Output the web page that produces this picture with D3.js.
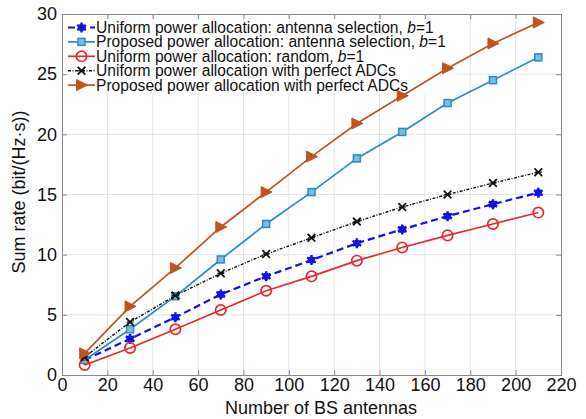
<!DOCTYPE html>
<html><head><meta charset="utf-8">
<script src="https://cdn.jsdelivr.net/npm/d3@7"></script>
<style>body{margin:0;background:#fff}svg{display:block}text{font-family:"Liberation Sans",Arial,sans-serif}</style>
</head><body><svg id="c" width="586" height="419"></svg>
<script>
const antennas = [10, 30, 50, 70, 90, 110, 130, 150, 170, 190, 210];
const uniformSel = [1.25, 3.0, 4.8, 6.7, 8.2, 9.55, 10.95, 12.1, 13.2, 14.2, 15.15];
const proposedSel = [1.25, 3.8, 6.55, 9.6, 12.55, 15.2, 18.0, 20.2, 22.6, 24.5, 26.4];
const uniformRandom = [0.83, 2.25, 3.8, 5.4, 7.0, 8.2, 9.5, 10.6, 11.6, 12.55, 13.5];
const uniformPerfect = [1.5, 4.4, 6.6, 8.45, 10.05, 11.4, 12.75, 13.96, 15.0, 15.95, 16.85];
const proposedPerfect = [1.8, 5.7, 8.9, 12.3, 15.2, 18.15, 20.9, 23.2, 25.5, 27.55, 29.3];
const xTicks = [0, 20, 40, 60, 80, 100, 120, 140, 160, 180, 200, 220];
const yTicks = [0, 5, 10, 15, 20, 25, 30];
const seriesNames = [
  ["Uniform power allocation: antenna selection, ", "b", "=1"],
  ["Proposed power allocation: antenna selection, ", "b", "=1"],
  ["Uniform power allocation: random, ", "b", "=1"],
  ["Uniform power allocation with perfect ADCs"],
  ["Proposed power allocation with perfect ADCs"]
];

const series = [
  {vals: uniformSel, color: "#1010e8", dash: "7,4", width: 2.2, marker: "star"},
  {vals: proposedSel, color: "#2a8cc4", dash: null, width: 1.7, marker: "square"},
  {vals: uniformRandom, color: "#e8282a", dash: null, width: 1.7, marker: "circle"},
  {vals: uniformPerfect, color: "#111111", dash: "3,1.5,1,1.5", width: 1.4, marker: "x"},
  {vals: proposedPerfect, color: "#c0531e", dash: null, width: 1.7, marker: "tri"}
];

const svg = d3.select("#c");
const L = 62, R = 561, T = 14, B = 375;
const x = d3.scaleLinear().domain([0, 220]).range([L, R]);
const y = d3.scaleLinear().domain([0, 30]).range([B, T]);

// grid
svg.append("g").selectAll("line").data(xTicks.slice(1, -1)).join("line")
  .attr("x1", d => x(d)).attr("x2", d => x(d)).attr("y1", T).attr("y2", B)
  .attr("stroke", "#e4e4e4").attr("stroke-width", 1);
svg.append("g").selectAll("line").data(yTicks.slice(1, -1)).join("line")
  .attr("y1", d => y(d)).attr("y2", d => y(d)).attr("x1", L).attr("x2", R)
  .attr("stroke", "#e4e4e4").attr("stroke-width", 1);

// legend background (under data lines)
svg.append("rect").attr("x", L + 1).attr("y", 19).attr("width", 392).attr("height", 74).attr("fill", "#fff");

// axes
const xAxis = d3.axisBottom(x).tickValues(xTicks).tickSize(-5).tickPadding(3);
const yAxis = d3.axisLeft(y).tickValues(yTicks).tickSize(-5).tickPadding(5);
svg.append("g").attr("transform", `translate(0,${B})`).call(xAxis);
svg.append("g").attr("transform", `translate(${L},0)`).call(yAxis);
svg.append("g").attr("transform", `translate(0,${T})`).call(d3.axisTop(x).tickValues(xTicks).tickSize(-5).tickFormat(""));
svg.append("g").attr("transform", `translate(${R},0)`).call(d3.axisRight(y).tickValues(yTicks).tickSize(-5).tickFormat(""));
svg.selectAll(".domain").attr("stroke", "#8a8a8a");
svg.selectAll(".tick line").attr("stroke", "#8a8a8a");
svg.selectAll(".tick text").attr("font-size", 18).attr("fill", "#111").attr("font-family", "Liberation Sans, Arial, sans-serif");

// titles
svg.append("text").attr("x", 321).attr("y", 414).attr("text-anchor", "middle")
  .attr("font-size", 18).attr("fill", "#111").text("Number of BS antennas");
svg.append("text").attr("transform", `translate(25,${192}) rotate(-90)`).attr("text-anchor", "middle")
  .attr("font-size", 18).attr("fill", "#111").text("Sum rate (bit/(Hz\u00b7s))");

function drawMarker(g, type, color, cx, cy) {
  if (type === "star") {
    g.append("path").attr("d", d3.symbol(d3.symbolAsterisk, 70)()).attr("transform", `translate(${cx},${cy})`)
      .attr("stroke", color).attr("stroke-width", 2.4).attr("fill", "none");
    g.append("circle").attr("cx", cx).attr("cy", cy).attr("r", 3.6).attr("fill", color);
  } else if (type === "square") {
    g.append("rect").attr("x", cx - 3.5).attr("y", cy - 3.5).attr("width", 7).attr("height", 7)
      .attr("fill", "#7fbbe0").attr("stroke", color).attr("stroke-width", 1.5);
  } else if (type === "circle") {
    g.append("circle").attr("cx", cx).attr("cy", cy).attr("r", 5.2).attr("fill", "none")
      .attr("stroke", color).attr("stroke-width", 1.7);
  } else if (type === "x") {
    g.append("path").attr("d", d3.symbol(d3.symbolTimes, 40)()).attr("transform", `translate(${cx},${cy})`)
      .attr("stroke", color).attr("stroke-width", 1.8).attr("fill", "none");
    g.append("path").attr("d", "M-3.5,0H3.5").attr("transform", `translate(${cx},${cy})`)
      .attr("stroke", color).attr("stroke-width", 1.2);
  } else if (type === "tri") {
    g.append("path").attr("d", "M6,0L-5,-5.5L-5,5.5Z").attr("transform", `translate(${cx},${cy})`)
      .attr("fill", color).attr("stroke", color).attr("stroke-width", 1);
  }
}

const line = d3.line().x((d, i) => x(antennas[i])).y(d => y(d));
series.forEach(s => {
  const g = svg.append("g");
  g.append("path").datum(s.vals).attr("d", line).attr("fill", "none")
    .attr("stroke", s.color).attr("stroke-width", s.width).attr("stroke-dasharray", s.dash);
  s.vals.forEach((v, i) => drawMarker(g, s.marker, s.color, x(antennas[i]), y(v)));
});

// legend
const lg = svg.append("g");
seriesNames.forEach((parts, i) => {
  const s = series[i];
  const ly = 27.5 + i * 14.4;
  lg.append("line").attr("x1", 68).attr("x2", 95).attr("y1", ly).attr("y2", ly)
    .attr("stroke", s.color).attr("stroke-width", s.width).attr("stroke-dasharray", s.dash);
  drawMarker(lg, s.marker, s.color, 81.5, ly);
  const t = lg.append("text").attr("x", 96).attr("y", ly + 5.5).attr("font-size", 15.6).attr("fill", "#111");
  parts.forEach((p, j) => {
    const ts = t.append("tspan").text(p);
    if (j === 1) ts.attr("font-style", "italic");
  });
});
</script></body></html>
